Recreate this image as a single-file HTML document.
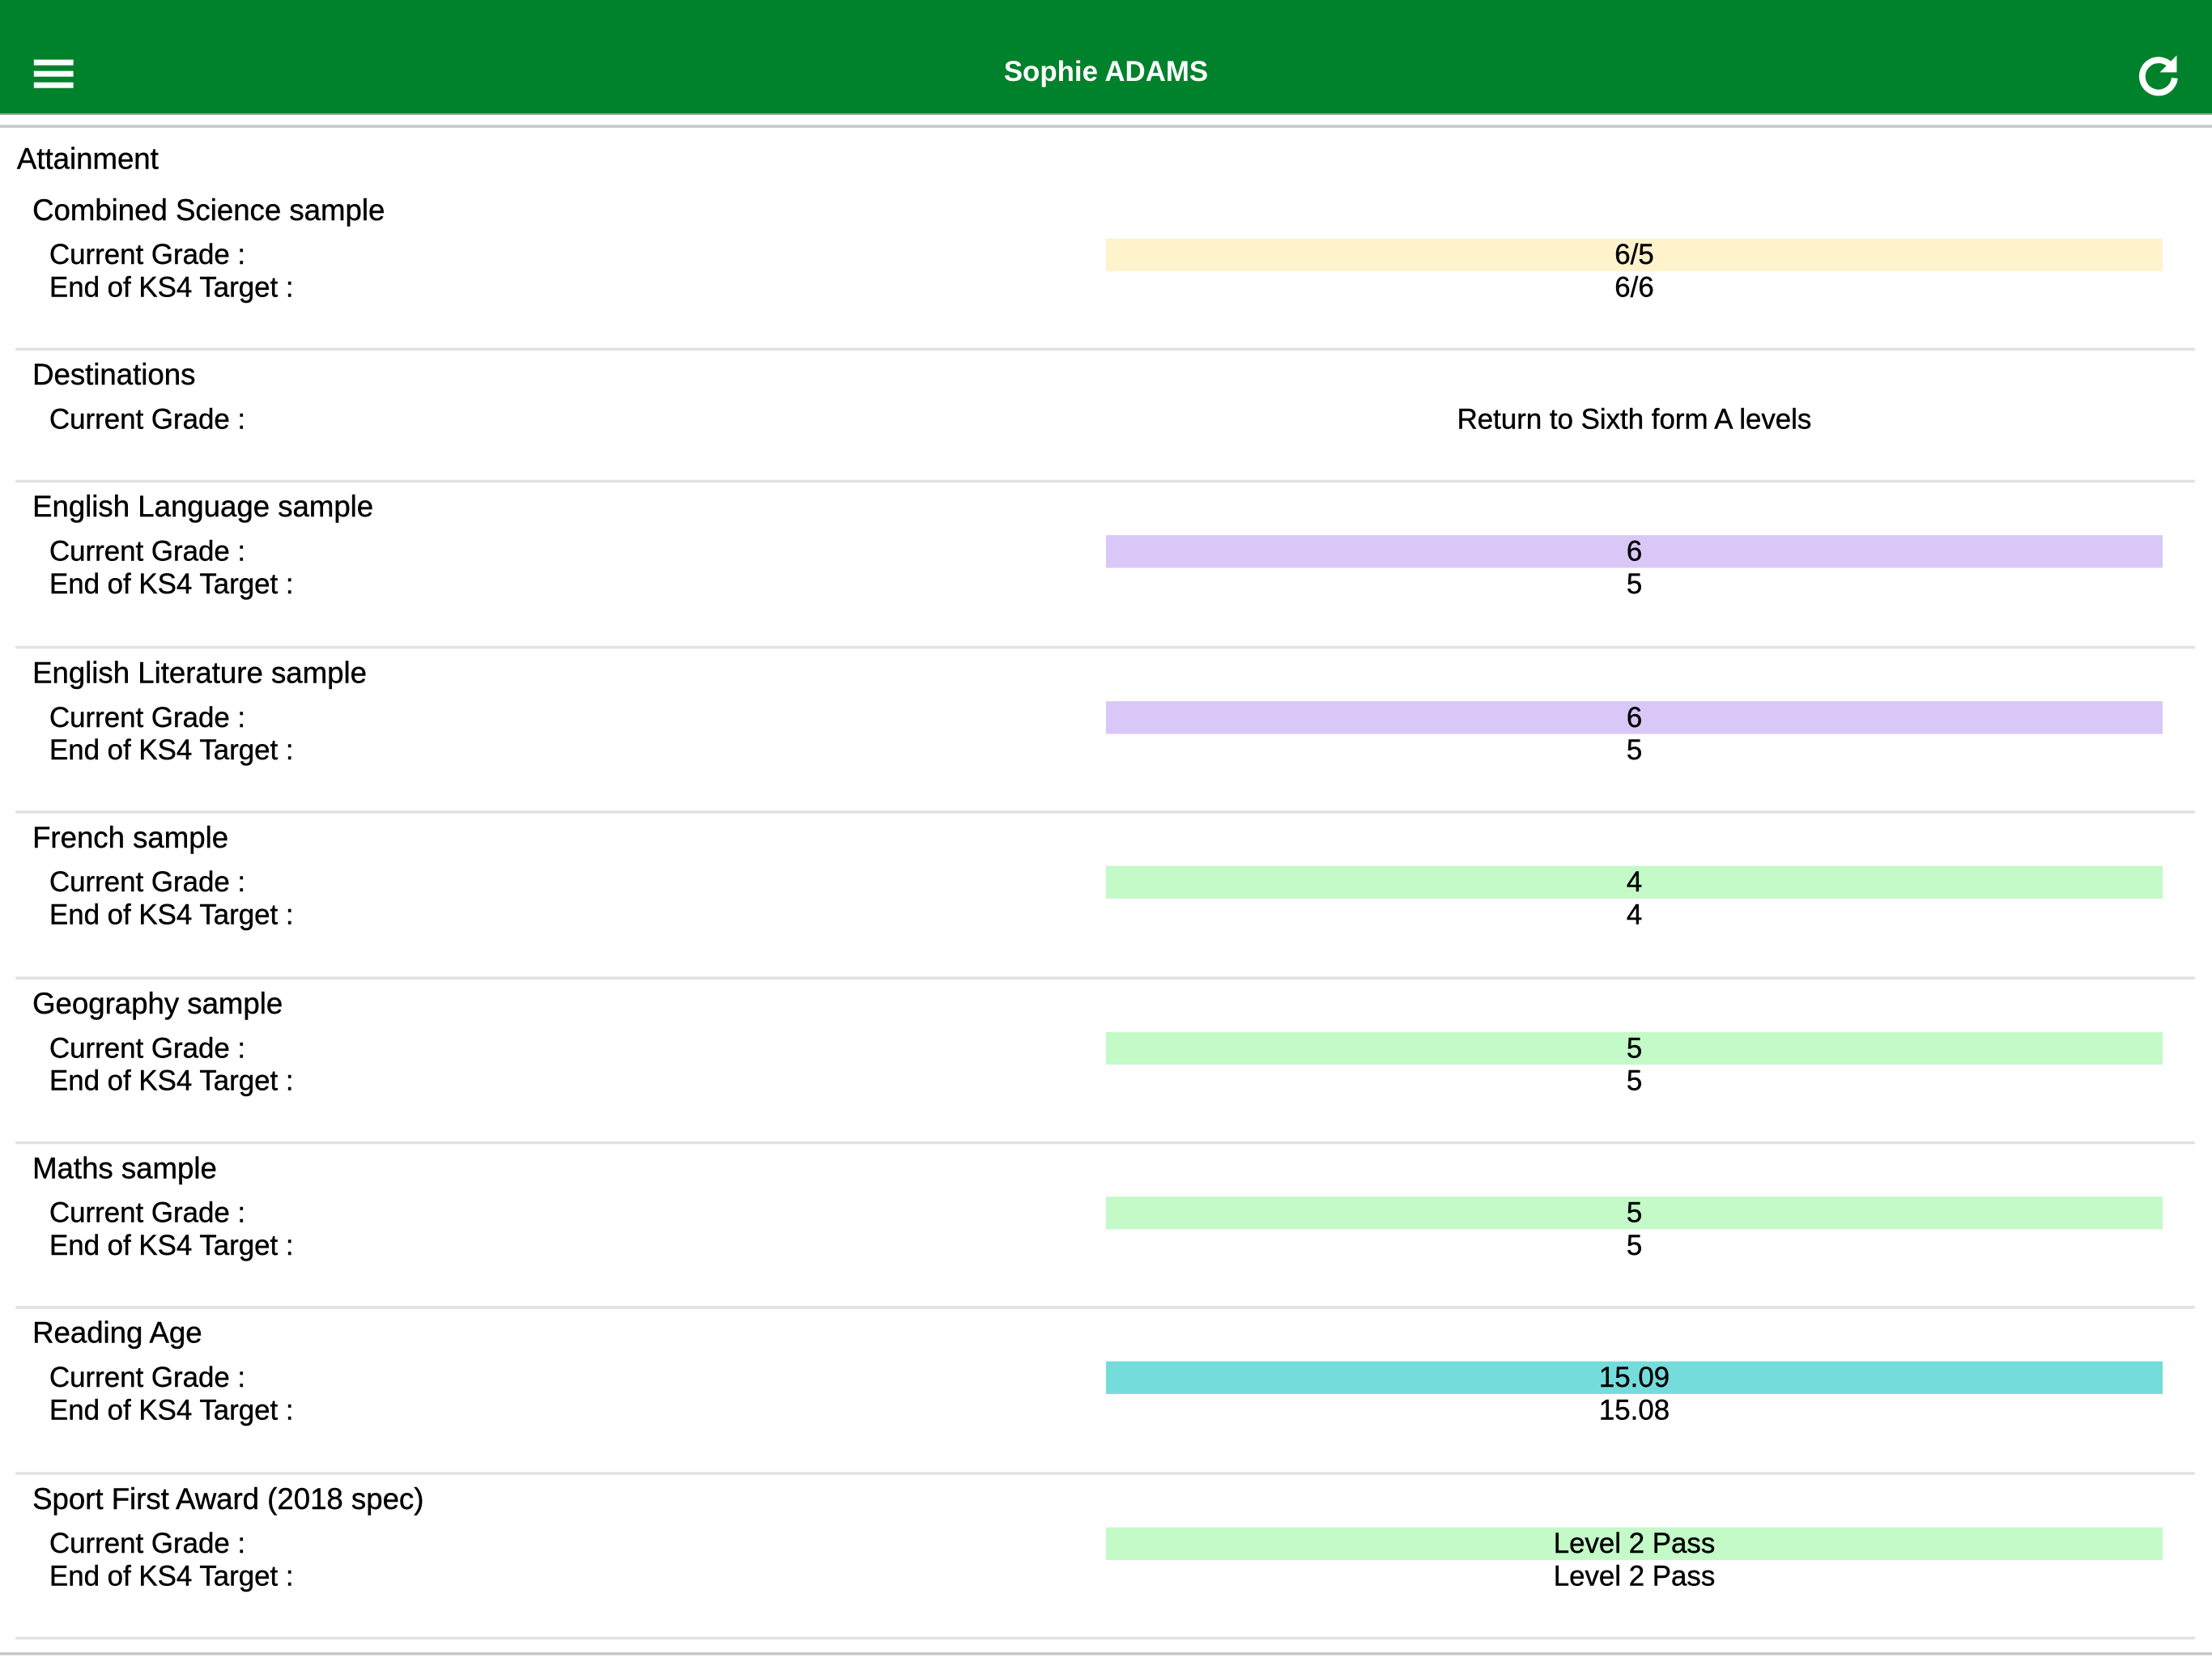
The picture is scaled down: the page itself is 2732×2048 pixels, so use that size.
<!DOCTYPE html>
<html><head><meta charset="utf-8">
<style>
html,body{margin:0;padding:0;width:2732px;height:2048px;overflow:hidden;background:#fff;}
#wrap{position:absolute;left:0;top:0;width:1568px;height:1168px;transform-origin:0 0;transform:scale(1.742347,1.753425);font-family:"Liberation Sans",sans-serif;color:#000;}
.abs{position:absolute;}
.t{position:absolute;white-space:nowrap;line-height:1;-webkit-text-stroke:0.25px #000;}
.title{font-size:21px;}
.lbl{font-size:20px;left:35px;}
.val{font-size:20px;left:784px;width:749px;text-align:center;}
.bar{position:absolute;left:784px;width:749px;height:23px;}
.sep{position:absolute;left:11px;width:1545px;height:2px;background:#e2e2e2;}
</style></head>
<body>
<div id="wrap">
  <div class="abs" style="left:0;top:0;width:1568px;height:80px;background:#00812b;"></div>
  <div class="abs" style="left:0;top:80px;width:1568px;height:1px;background:#9aa69a;"></div>
  <div class="abs" style="left:24px;top:42px;width:28px;height:20px;">
    <div class="abs" style="left:0;top:0;width:28px;height:4px;background:#fff;"></div>
    <div class="abs" style="left:0;top:8px;width:28px;height:4px;background:#fff;"></div>
    <div class="abs" style="left:0;top:16px;width:28px;height:4px;background:#fff;"></div>
  </div>
  <div class="t" style="left:584px;width:400px;text-align:center;top:41px;font-size:20px;font-weight:bold;color:#fff;-webkit-text-stroke:0;">Sophie ADAMS</div>
  <svg class="abs" style="left:1514px;top:36px;" width="32" height="32" viewBox="0 0 32 32">
    <path d="M26 12 A11.5 11.5 0 1 0 27.5 19" fill="none" stroke="#fff" stroke-width="4.5"/>
    <polygon points="29,3 29,15 17,15" fill="#fff"/>
  </svg>
  <div class="abs" style="left:0;top:88px;width:1568px;height:2px;background:#c8c8c8;"></div>
  <div class="t" style="left:12px;top:102px;font-size:21px;">Attainment</div>
  <div id="sections"></div>
  <div class="abs" style="left:0;top:1164px;width:1568px;height:2px;background:#c8c8c8;"></div>
</div>
<script>
const subjects=["Combined Science sample","Destinations","English Language sample","English Literature sample","French sample","Geography sample","Maths sample","Reading Age","Sport First Award (2018 spec)"];
const currentGrades=["6/5","Return to Sixth form A levels","6","6","4","5","5","15.09","Level 2 Pass"];
const targets=["6/6",null,"5","5","4","5","5","15.08","Level 2 Pass"];
const barColors=["#fff3cc",null,"#d9c8f7","#d9c8f7","#c4f9c8","#c4f9c8","#c4f9c8","#75dcdc","#c4f9c8"];
const starts=[129,245,338,455,571,688,804,920,1037];
const ends=[245,338,455,571,688,804,920,1037,1153];
const host=document.getElementById('sections');
function mk(cls,txt,top,extra){const d=document.createElement('div');d.className=cls;if(txt!==null)d.textContent=txt;d.style.top=top+'px';if(extra)d.style.cssText+=extra;host.appendChild(d);return d;}
subjects.forEach((s,i)=>{
  const y=starts[i];
  const ti=mk('t title',s,y+9,'left:23px;');
  
  
  if(barColors[i]){
    const b=mk('bar',null,y+39,'background:'+barColors[i]+';');
    
    
  }
  const l1=mk('t lbl','Current Grade :',y+41);
  
  
  const v1=mk('t val',currentGrades[i],y+41);
  
  
  if(targets[i]!==null){
    const l2=mk('t lbl','End of KS4 Target :',y+64);
    
    
    const v2=mk('t val',targets[i],y+64);
    
    
  }
  const sp=mk('sep',null,ends[i]);
  
  
});
</script>
</body></html>
